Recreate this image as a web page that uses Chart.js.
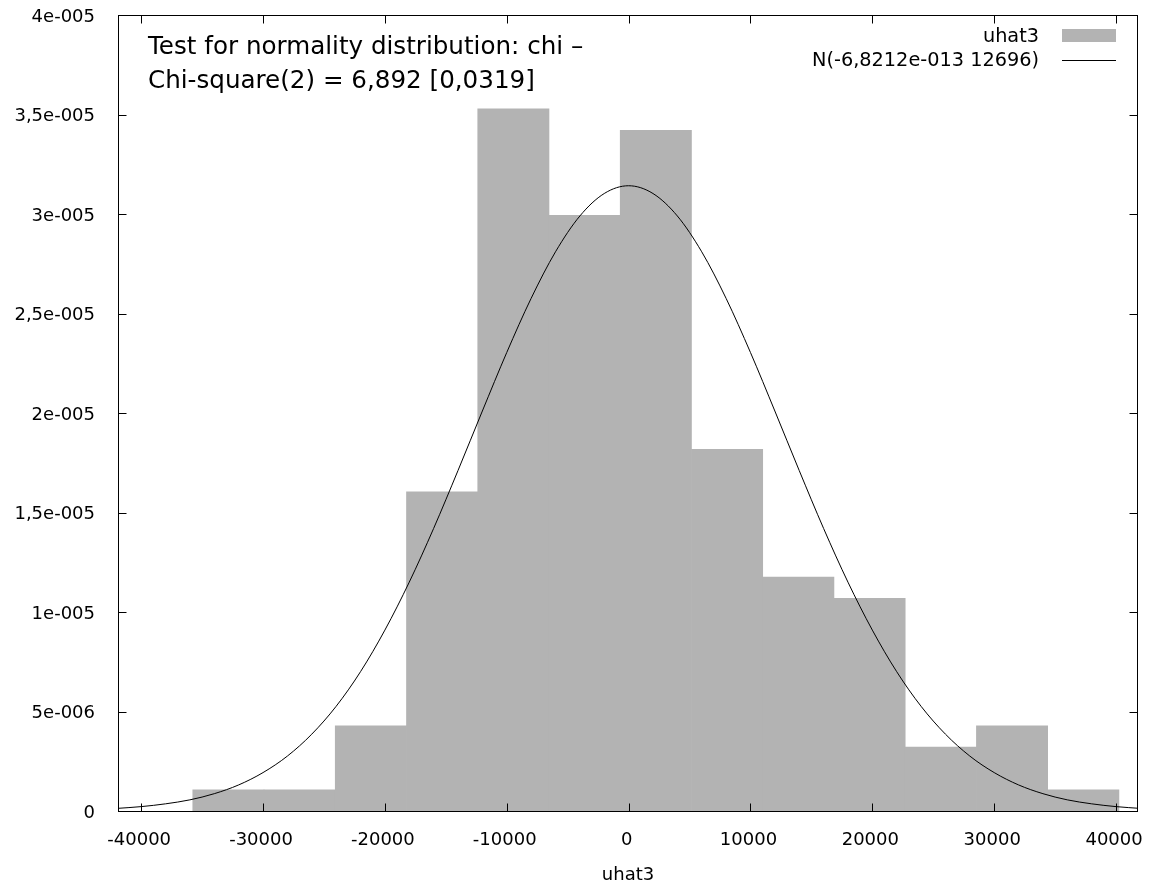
<!DOCTYPE html>
<html>
<head>
<meta charset="utf-8">
<script src="https://cdn.jsdelivr.net/npm/chart.js@4/dist/chart.umd.min.js"></script>
<style>
  html, body { margin: 0; padding: 0; background: #fff; }
</style>
</head>
<body>
<canvas id="chartUhat" width="1150" height="886"></canvas>
<script>
// histogram of uhat3: bin centres and density
const binCenters = [-32841, -26995, -21149, -15303, -9457, -3611, 2235, 8081, 13927, 19773, 25619, 31465, 37311];
const binDensity = [1.07e-6, 1.07e-6, 4.28e-6, 1.604e-5, 3.528e-5, 2.993e-5, 3.421e-5, 1.818e-5, 1.176e-5, 1.069e-5, 3.21e-6, 4.28e-6, 1.07e-6];

// normal curve
const curveX = [-42000, -40000, -38000, -36000, -34000, -32000, -30000, -28000, -26000, -24000, -22000,
                -20000, -18000, -16000, -14000, -12000, -10000, -8000, -6000, -4000, -2000, 0,
                2000, 4000, 6000, 8000, 10000, 12000, 14000, 16000, 18000, 20000,
                22000, 24000, 26000, 28000, 30000, 32000, 34000, 36000, 38000, 40000, 42000];
const curveY = [1.3e-7, 2.2e-7, 3.6e-7, 5.6e-7, 8.7e-7, 1.31e-6, 1.93e-6, 2.76e-6, 3.86e-6, 5.26e-6, 7.0e-6,
                9.09e-6, 1.150e-5, 1.420e-5, 1.711e-5, 2.010e-5, 2.304e-5, 2.576e-5, 2.810e-5, 2.990e-5, 3.103e-5, 3.142e-5,
                3.103e-5, 2.990e-5, 2.810e-5, 2.576e-5, 2.304e-5, 2.010e-5, 1.711e-5, 1.420e-5, 1.150e-5, 9.09e-6,
                7.0e-6, 5.26e-6, 3.86e-6, 2.76e-6, 1.93e-6, 1.31e-6, 8.7e-7, 5.6e-7, 3.6e-7, 2.2e-7, 1.3e-7];

// tick labels
const xTicks = [-40000, -30000, -20000, -10000, 0, 10000, 20000, 30000, 40000];
const yTicks = [0, 5e-6, 1e-5, 1.5e-5, 2e-5, 2.5e-5, 3e-5, 3.5e-5, 4e-5];
const yTickLabels = ['0', '5e-006', '1e-005', '1,5e-005', '2e-005', '2,5e-005', '3e-005', '3,5e-005', '4e-005'];

const testLines = ['Test for normality distribution: chi \u2013', 'Chi-square(2) = 6,892 [0,0319]'];
const legendLabels = ['uhat3', 'N(-6,8212e-013 12696)'];

const FONT = '"DejaVu Sans", Verdana, sans-serif';
const BAR_GREY = '#b3b3b3';

// kotak, tick ke dalam, teks uji dan legenda ala gnuplot
const gnuplotFrame = {
    id: 'gnuplotFrame',
    afterDraw(chart) {
        const ctx = chart.ctx;
        const a = chart.chartArea;
        const xs = chart.scales.x;
        const ys = chart.scales.y;
        const L = Math.round(a.left) + 0.5, R = Math.round(a.right) - 0.5;
        const T = Math.round(a.top) + 0.5, B = Math.round(a.bottom) + 0.5;
        ctx.save();
        ctx.strokeStyle = '#000';
        ctx.lineWidth = 1;
        ctx.strokeRect(L, T, R - L, B - T);

        const tick = 8;
        ctx.beginPath();
        xTicks.forEach(v => {
            const px = Math.round(xs.getPixelForValue(v)) + 0.5;
            ctx.moveTo(px, B); ctx.lineTo(px, B - tick);
            ctx.moveTo(px, T); ctx.lineTo(px, T + tick);
        });
        yTicks.forEach(v => {
            const py = Math.round(ys.getPixelForValue(v)) + 0.5;
            ctx.moveTo(L, py); ctx.lineTo(L + tick, py);
            ctx.moveTo(R, py); ctx.lineTo(R - tick, py);
        });
        ctx.stroke();

        // teks hasil uji
        ctx.fillStyle = '#000';
        ctx.font = '24.6px ' + FONT;
        ctx.textAlign = 'left';
        ctx.textBaseline = 'alphabetic';
        ctx.fillText(testLines[0], 148, 54);
        ctx.fillText(testLines[1], 148, 88);

        // legenda kanan atas
        ctx.font = '19.3px ' + FONT;
        ctx.textAlign = 'right';
        ctx.fillText(legendLabels[0], 1039, 42);
        ctx.fillText(legendLabels[1], 1039, 66);
        ctx.fillStyle = BAR_GREY;
        ctx.fillRect(1062, 29, 54, 13);
        ctx.strokeStyle = '#000';
        ctx.beginPath();
        ctx.moveTo(1062, 60.5); ctx.lineTo(1116, 60.5);
        ctx.stroke();
        ctx.restore();
    }
};

// buang padding otomatis dari label supaya area plot pas
function noPadding(s) {
    s.paddingLeft = 0;
    s.paddingRight = 0;
    s.paddingTop = 0;
    s.paddingBottom = 0;
}

new Chart(document.getElementById('chartUhat'), {
    type: 'bar',
    data: {
        datasets: [{
            type: 'line',
            label: legendLabels[1],
            data: curveX.map((x, i) => ({ x: x, y: curveY[i] })),
            borderColor: '#000',
            borderWidth: 1,
            pointRadius: 0,
            cubicInterpolationMode: 'monotone',
            order: 0
        }, {
            type: 'bar',
            label: legendLabels[0],
            data: binCenters.map((x, i) => ({ x: x, y: binDensity[i] })),
            backgroundColor: BAR_GREY,
            borderWidth: 0,
            barPercentage: 1,
            categoryPercentage: 1,
            order: 1
        }]
    },
    options: {
        responsive: false,
        animation: false,
        devicePixelRatio: 1,
        layout: { padding: { left: 0, top: 15, right: 12, bottom: 0 } },
        plugins: {
            legend: { display: false },
            tooltip: { enabled: false }
        },
        scales: {
            x: {
                type: 'linear',
                min: -41900,
                max: 41800,
                offset: false,
                afterBuildTicks: s => { s.ticks = xTicks.map(v => ({ value: v })); },
                afterFit: s => { s.height = 75; noPadding(s); },
                grid: { display: false, drawTicks: false },
                border: { display: false },
                ticks: {
                    padding: 19,
                    labelOffset: -2,
                    color: '#000',
                    font: { family: FONT, size: 18 },
                    maxRotation: 0,
                    callback: v => String(v)
                },
                title: {
                    display: true,
                    text: 'uhat3',
                    color: '#000',
                    font: { family: FONT, size: 18 },
                    padding: { top: 0, bottom: 0 }
                }
            },
            y: {
                min: 0,
                max: 4e-5,
                afterBuildTicks: s => { s.ticks = yTicks.map(v => ({ value: v })); },
                afterFit: s => { s.width = 118; noPadding(s); },
                grid: { display: false, drawTicks: false },
                border: { display: false },
                ticks: {
                    padding: 23,
                    labelOffset: 2,
                    color: '#000',
                    font: { family: FONT, size: 18 },
                    callback: (v, i) => yTickLabels[i]
                }
            }
        }
    },
    plugins: [gnuplotFrame]
});
</script>
</body>
</html>
